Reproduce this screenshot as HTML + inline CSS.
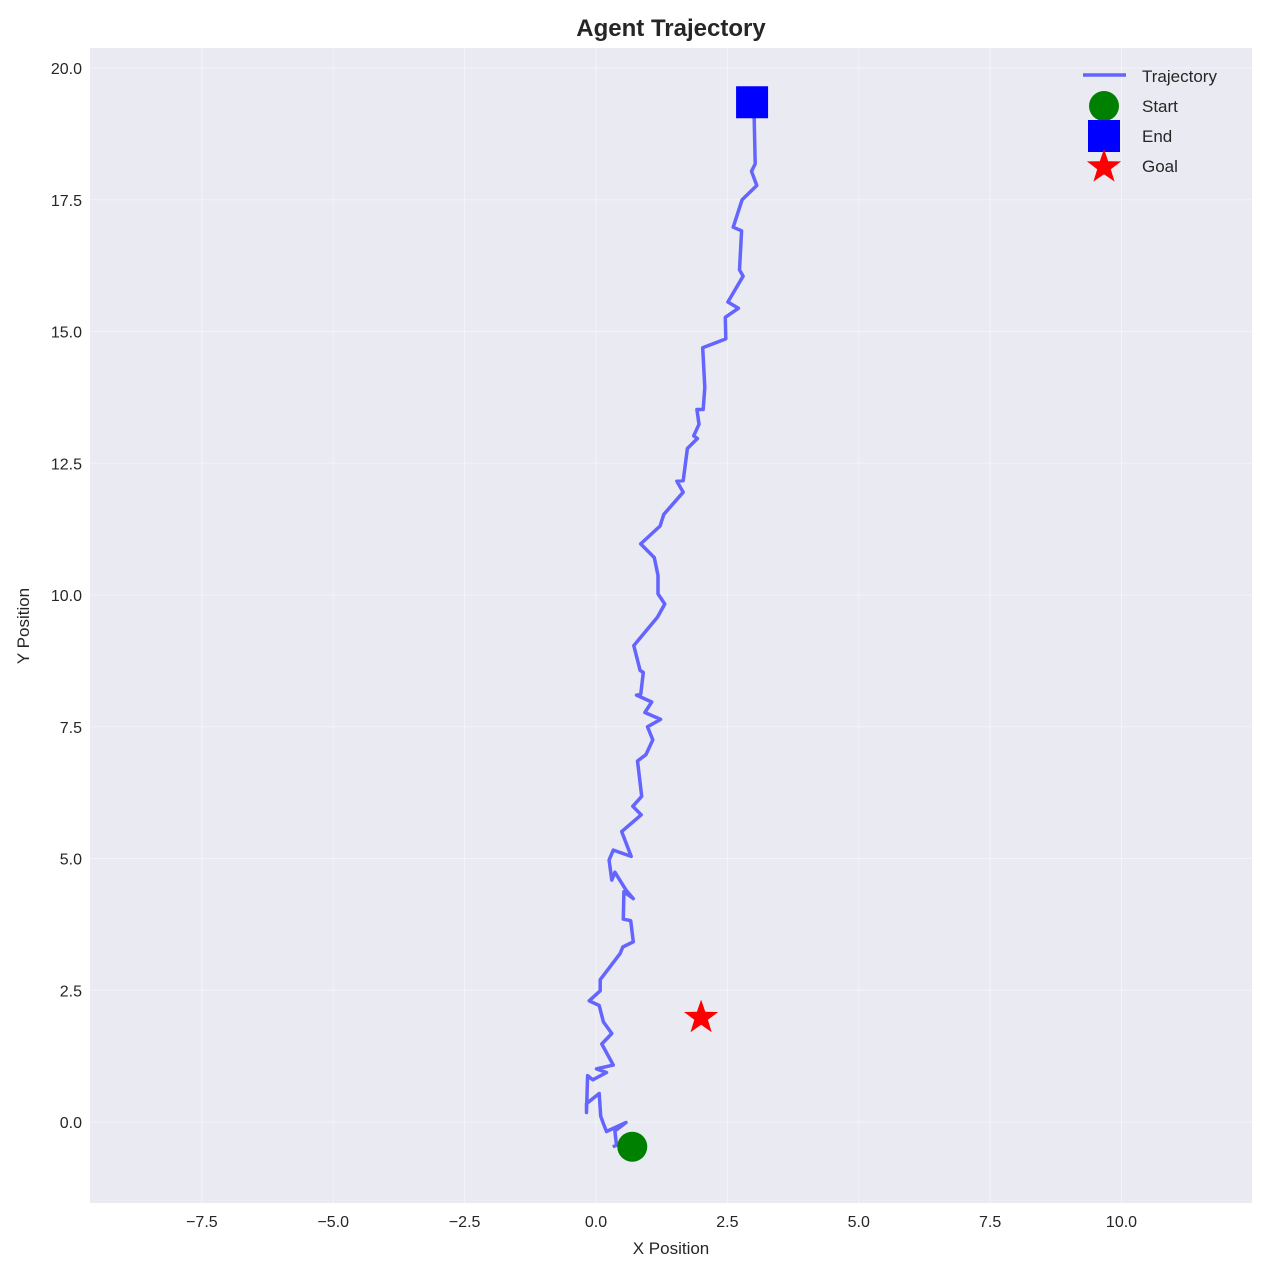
<!DOCTYPE html>
<html><head><meta charset="utf-8"><style>
html,body{margin:0;padding:0;background:#fff;}
svg{display:block;font-family:"Liberation Sans","DejaVu Sans",sans-serif;}
</style></head><body>
<svg id="chart" width="1268" height="1273" viewBox="0 0 1268 1273" xmlns="http://www.w3.org/2000/svg">
<rect x="0" y="0" width="1268" height="1273" fill="#fff"/>
<rect x="90" y="48" width="1162" height="1155" fill="#EAEAF2"/>
<g id="grid"></g>
<g id="ticks"></g>
<g id="marks"></g>
<text x="671" y="36" text-anchor="middle" font-size="24" font-weight="bold" fill="#262626">Agent Trajectory</text>
<text x="671" y="1254" text-anchor="middle" font-size="17" fill="#262626">X Position</text>
<text transform="translate(29,626) rotate(-90)" text-anchor="middle" font-size="17" fill="#262626">Y Position</text>
<g>
  <line x1="1083" y1="75" x2="1126" y2="75" stroke="#5555FF" stroke-opacity="0.9" stroke-width="3.5"/>
  <text x="1142" y="82" font-size="17" fill="#262626">Trajectory</text>
  <circle cx="1104" cy="106" r="15" fill="#008000"/>
  <text x="1142" y="112" font-size="17" fill="#262626">Start</text>
  <rect x="1088" y="120" width="32" height="32" fill="#0000FF"/>
  <text x="1142" y="142" font-size="17" fill="#262626">End</text>
  <polygon id="legstar" fill="#FF0000"/>
  <text x="1142" y="172" font-size="17" fill="#262626">Goal</text>
</g>
</svg>
<script>
const trajX = [0.32,0.39,0.36,0.57,0.20,0.14,0.09,0.06,-0.18,-0.18,-0.16,-0.06,0.20,0.01,0.33,0.11,0.30,0.14,0.06,-0.13,0.08,0.08,0.46,0.51,0.71,0.66,0.52,0.53,0.71,0.57,0.36,0.30,0.25,0.33,0.67,0.49,0.86,0.70,0.87,0.79,0.95,1.08,0.98,1.23,0.93,1.06,0.77,0.85,0.90,0.84,0.72,1.17,1.31,1.18,1.18,1.11,0.85,1.22,1.29,1.66,1.54,1.66,1.74,1.93,1.86,1.96,1.92,2.04,2.07,2.03,2.47,2.46,2.71,2.51,2.80,2.73,2.77,2.61,2.78,3.06,2.96,3.03,3.01,2.97];
const trajY = [-0.47,-0.44,-0.17,-0.01,-0.18,-0.03,0.11,0.54,0.35,0.18,0.88,0.80,0.94,1.01,1.08,1.48,1.68,1.90,2.21,2.30,2.49,2.70,3.20,3.32,3.42,3.82,3.85,4.37,4.24,4.40,4.74,4.59,4.97,5.16,5.04,5.51,5.83,5.99,6.18,6.85,6.97,7.25,7.50,7.64,7.77,7.97,8.10,8.11,8.53,8.57,9.04,9.58,9.83,10.02,10.37,10.71,10.97,11.31,11.53,11.95,12.16,12.17,12.78,12.97,13.02,13.24,13.52,13.52,13.94,14.69,14.86,15.27,15.44,15.56,16.05,16.17,16.91,16.98,17.50,17.77,18.04,18.18,19.03,19.35];
const startPt = [0.69,-0.47];
const endPt = [2.97,19.35];
const goalPt = [2.0,2.0];
const xTicks = [-7.5,-5.0,-2.5,0.0,2.5,5.0,7.5,10.0];
const yTicks = [0.0,2.5,5.0,7.5,10.0,12.5,15.0,17.5,20.0];

const NS='http://www.w3.org/2000/svg';
const sx = v => 596 + 52.55*v;
const sy = v => 1122 - 52.7*v;
function mk(tag, attrs, parent){const e=document.createElementNS(NS,tag);for(const k in attrs)e.setAttribute(k,attrs[k]);parent.appendChild(e);return e;}
const grid=document.getElementById('grid'), ticks=document.getElementById('ticks'), marks=document.getElementById('marks');
xTicks.forEach(t=>{
  const l=mk('line',{x1:sx(t),x2:sx(t),y1:48,y2:1203,stroke:'#fff','stroke-width':1,'stroke-opacity':0.45},grid);
  
  
  const tx=mk('text',{x:sx(t),y:1227,'text-anchor':'middle','font-size':16,fill:'#262626'},ticks);
  
  
  tx.textContent=(t<0?'\u2212':'')+Math.abs(t).toFixed(1);
});
yTicks.forEach(t=>{
  const l=mk('line',{x1:90,x2:1252,y1:sy(t),y2:sy(t),stroke:'#fff','stroke-width':1,'stroke-opacity':0.45},grid);
  
  
  const tx=mk('text',{x:82,y:sy(t)+6,'text-anchor':'end','font-size':16,fill:'#262626'},ticks);
  
  
  tx.textContent=t.toFixed(1);
});
const pts=trajX.map((x,i)=>sx(x).toFixed(1)+','+sy(trajY[i]).toFixed(1)).join(' ');
const pl=mk('polyline',{points:pts,fill:'none',stroke:'#5555FF','stroke-opacity':0.9,'stroke-width':3.5,'stroke-linejoin':'round'},marks);


const sc=mk('circle',{cx:sx(startPt[0]),cy:sy(startPt[1]),r:15,fill:'#008000'},marks);


const er=mk('rect',{x:sx(endPt[0])-16,y:sy(endPt[1])-16,width:32,height:32,fill:'#0000FF'},marks);


function star(cx,cy,R){const r=R*0.4;let p=[];for(let i=0;i<10;i++){const a=-Math.PI/2+i*Math.PI/5;const rr=i%2?r:R;p.push((cx+rr*Math.cos(a)).toFixed(1)+','+(cy+rr*Math.sin(a)).toFixed(1));}return p.join(' ');}
const gs=mk('polygon',{points:star(sx(goalPt[0]),sy(goalPt[1])+1,18),fill:'#FF0000'},marks);


document.getElementById('legstar').setAttribute('points',star(1104,167,18));
</script>
</body></html>
